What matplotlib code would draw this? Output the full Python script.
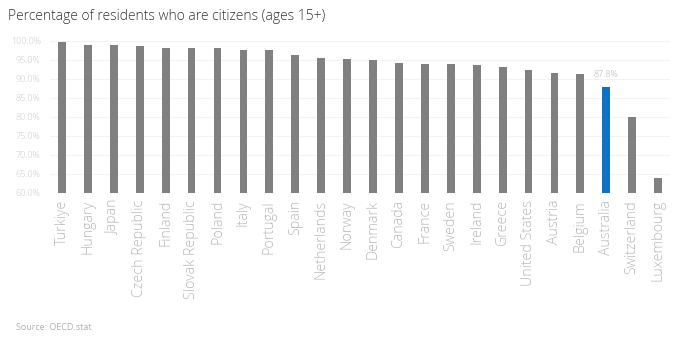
import matplotlib
matplotlib.use("Agg")
import matplotlib.pyplot as plt
from matplotlib.ticker import FuncFormatter, MultipleLocator

countries = ["Türkiye", "Hungary", "Japan", "Czech Republic", "Finland", "Slovak Republic",
             "Poland", "Italy", "Portugal", "Spain", "Netherlands", "Norway", "Denmark",
             "Canada", "France", "Sweden", "Ireland", "Greece", "United States", "Austria",
             "Belgium", "Australia", "Switzerland", "Luxembourg"]
values = [99.7, 99.0, 98.9, 98.7, 98.2, 98.2, 98.1, 97.7, 97.6, 96.2, 95.5, 95.3, 95.1,
          94.2, 94.0, 93.9, 93.6, 93.1, 92.4, 91.5, 91.3, 87.8, 80.1, 64.0]
highlight = "Australia"

plt.rcParams['font.family'] = ['Open Sans', 'DejaVu Sans']

fig = plt.figure(figsize=(6.8, 3.38), dpi=100)
ax = fig.add_axes([0.074, 0.429, 0.911, 0.45])

colors = ["#0f72c4" if c == highlight else "#808080" for c in countries]
x = list(range(len(countries)))
ax.bar(x, values, width=0.3, color=colors, zorder=3)

ax.set_ylim(60, 100)
ax.set_xlim(-0.45, len(countries) - 0.55)
ax.yaxis.set_major_locator(MultipleLocator(5))
ax.yaxis.set_major_formatter(FuncFormatter(lambda v, p: f"{v:.1f}%"))
ax.grid(axis="y", color="#f2f2f2", linewidth=0.8, zorder=0)
for s in ax.spines.values():
    s.set_visible(False)
ax.tick_params(axis="both", length=0, colors="#c8c8c8")
ax.tick_params(axis="y", labelsize=6.5, pad=7)
ax.tick_params(axis="x", pad=5)
ax.set_xticks(x)
ax.set_xticklabels(countries, rotation=90, fontsize=10.3, color="#b8b8b8", fontweight="light")
for lbl in ax.get_yticklabels():
    lbl.set_fontweight("light")

i = countries.index(highlight)
ax.annotate(f"{values[i]:.1f}%", (x[i], values[i]), xytext=(0, 6), textcoords="offset points",
            ha="center", va="bottom", fontsize=6.5, color="#b0b0b0", fontweight="light")

fig.text(0.012, 0.952, "Percentage of residents who are citizens (ages 15+)", fontsize=10,
         color="#333333", ha="left", va="center", fontweight="light")
fig.text(0.023, 0.032, "Source: OECD.stat", fontsize=6.5, color="#b0b0b0", ha="left", va="center")

fig.savefig("out.png", dpi=100)
